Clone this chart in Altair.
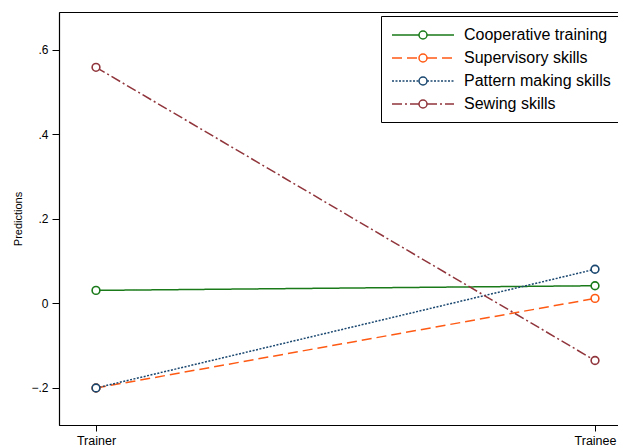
import altair as alt
import pandas as pd

roles = ["Trainer", "Trainee"]
role_pos = [0, 1]
series = ["Cooperative training", "Supervisory skills", "Pattern making skills", "Sewing skills"]
coop = [0.031, 0.042]
superv = [-0.200, 0.012]
pattern = [-0.200, 0.081]
sewing = [0.559, -0.135]
colors = ["#1a7a1a", "#ff5a14", "#1a476f", "#90353b"]
dashes = [[1, 0], [10, 5], [2, 1.5], [10, 3, 2, 3]]

# marker keys (distinct domain so the circle legend is not merged with the line legend)
markers = [s + " " for s in series]

rows = []
for name, mk, vals in zip(series, markers, [coop, superv, pattern, sewing]):
    for r, p, v in zip(roles, role_pos, vals):
        rows.append({"series": name, "marker": mk, "role": r, "pos": p, "value": v})
df = pd.DataFrame(rows)

xscale = alt.Scale(domain=[-0.07415, 1.0601], nice=False, zero=False)
yscale = alt.Scale(domain=[-0.2876, 0.6899], nice=False, zero=False)

x_enc = alt.X("pos:Q", scale=xscale,
              axis=alt.Axis(values=[0, 1], title=None, tickSize=6, labelPadding=3,
                            labelExpr="datum.value == 0 ? 'Trainer' : 'Trainee'",
                            labelFontSize=12.5, labelFlush=False))
y_enc = alt.Y("value:Q", scale=yscale,
              axis=alt.Axis(values=[-0.2, 0, 0.2, 0.4, 0.6], title="Predictions",
                            labelExpr="datum.value == 0 ? '0' : replace(format(datum.value, '.1f'), '0.', '.')",
                            tickSize=7, labelPadding=4, labelFontSize=12,
                            titleFontSize=11, titleFontWeight="normal", titlePadding=7))

# legend symbol: line with a gap for the circle (unit = 8 px)
line_path = "M-3.875,0H-0.5M0.5,0H3.875"
circle_path = "M-3.875,0M3.875,0M0.5,0A0.5,0.5 0 1,1 -0.5,0A0.5,0.5 0 1,1 0.5,0Z"

LX, LY = 322, 4

def line_legend():
    return alt.Legend(title=None, orient="none", legendX=LX, legendY=LY,
                      symbolType=line_path, symbolSize=256, symbolOffset=23,
                      symbolStrokeWidth=1.5, labelFontSize=16,
                      labelFont="Liberation Sans", labelColor="black",
                      labelOffset=32, rowPadding=6, padding=10,
                      strokeColor="black", fillColor="white", labelLimit=300)

lines = alt.Chart(df).mark_line(strokeWidth=1.5).encode(
    x=x_enc,
    y=y_enc,
    color=alt.Color("series:N", sort=series,
                    scale=alt.Scale(domain=series, range=colors),
                    legend=line_legend()),
    strokeDash=alt.StrokeDash("series:N", sort=series,
                              scale=alt.Scale(domain=series, range=dashes),
                              legend=line_legend()),
    detail="series:N",
)

points = alt.Chart(df).mark_point(filled=True, fill="white", size=60, strokeWidth=1.6, opacity=1).encode(
    x=alt.X("pos:Q", scale=xscale),
    y=alt.Y("value:Q", scale=yscale),
    stroke=alt.Stroke("marker:N", sort=markers,
                      scale=alt.Scale(domain=markers, range=colors),
                      legend=alt.Legend(title=None, orient="none", legendX=LX, legendY=LY,
                                        symbolType=circle_path, symbolSize=256, symbolOffset=23,
                                        symbolStrokeWidth=1.5, symbolFillColor="white",
                                        labelFontSize=16, labelFont="Liberation Sans",
                                        labelOpacity=0, labelOffset=32, rowPadding=6, padding=10,
                                        strokeColor="transparent", fillColor="transparent",
                                        labelLimit=300)),
)

chart = alt.layer(lines, points).properties(
    width=566, height=413,
    autosize=alt.AutoSizeParams(type="none"),
    padding={"left": 51, "top": 4, "right": -7, "bottom": 23},
    background="white",
).configure_view(stroke="black", strokeWidth=1).configure_axis(
    grid=False, domainColor="black", tickColor="black", labelColor="black",
    titleColor="black", labelFont="Liberation Sans", titleFont="Liberation Sans",
    domainWidth=1.2, tickWidth=1
)

chart.save("out.html", embed_options={"renderer": "svg", "actions": False})
